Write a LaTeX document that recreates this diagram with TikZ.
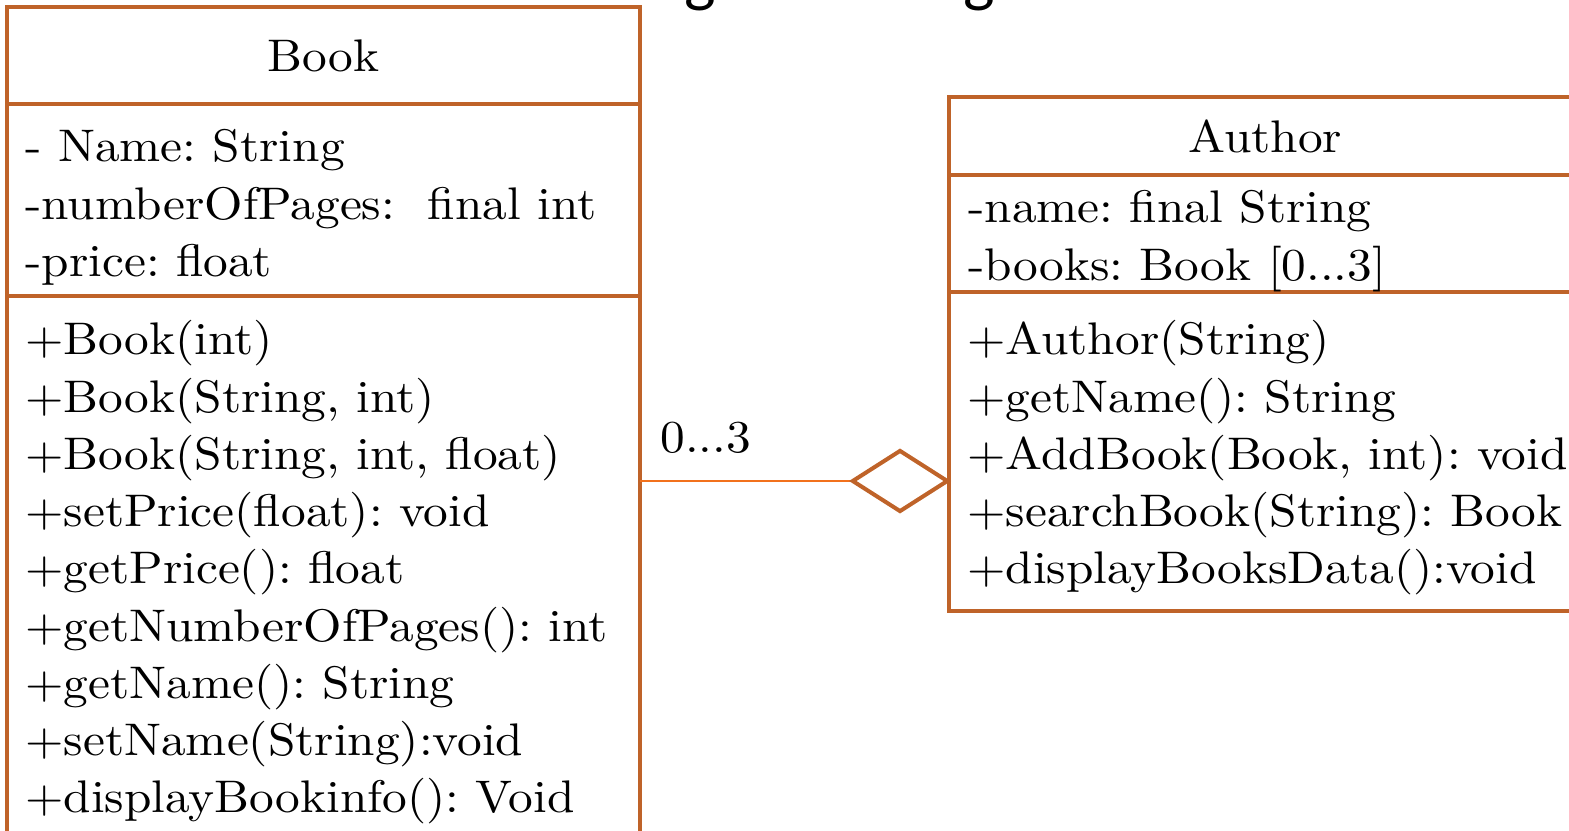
\documentclass[tikz,border=0pt]{standalone}
\usepackage{fontspec}
\setmainfont{lmroman10-regular.otf}[FakeStretch=1.08]
\newfontfamily\slidefont{Carlito}
\usetikzlibrary{positioning,arrows.meta}
\definecolor{umlbrown}{RGB}{191,99,41}
\definecolor{linkorange}{RGB}{242,113,28}
\newcommand\multrange{0...3}
\frenchspacing

\begin{document}
\begin{tikzpicture}[x=0.02cm, y=-0.02cm,
  compart/.style={draw=umlbrown, line width=2.3pt, anchor=north west, outer sep=0pt, inner sep=0pt, minimum width=12.66cm, font=\fontsize{26}{31}\selectfont},
  member/.style={anchor=base west, inner sep=0pt, font=\fontsize{26}{31}\selectfont},
  slide/.style={anchor=base west, inner sep=0pt, font=\slidefont\fontsize{38}{45}\selectfont},
  assoc/.style={draw=linkorange, line width=1.2pt, -{Diamond[open, length=2.04cm, width=1.3cm, line width=2.3pt, color=umlbrown]}}]
\useasboundingbox (0,0) rectangle (1569,831);
\clip (0,0) rectangle (1569,831);
% slide heading, cut by the frame
\node[slide, anchor=base, text=linkorange] (bullet) at (84,8) {•};
\node[slide] (heading) at (132,0) {Convert the following Class diagram to code};
% class Book
\node[compart, minimum height=1.94cm] (booktitle) at (7,7) {Book};
\node[compart, minimum height=3.84cm] (bookattr) at (booktitle.south west) {};
\node[compart, minimum height=11.5cm] (bookops) at (bookattr.south west) {};
\foreach \txt [count=\i from 0] in {{- Name: String}, {-numberOfPages:\ \ final int}, {-price: float}}
  \node[member] (battr\i) at (25, 162+57.2*\i) {\txt};
\foreach \txt [count=\i from 0] in {{+Book(int)}, {+Book(String, int)}, {+Book(String, int, float)},
    {+setPrice(float): void}, {+getPrice(): float}, {+getNumberOfPages(): int},
    {+getName(): String}, {+setName(String):void}, {+displayBookinfo(): Void}}
  \node[member] (bop\i) at (25, 355+57.2*\i) {\txt};
% class Author
\node[compart, minimum height=1.56cm] (authtitle) at (949,97) {Author};
\node[compart, minimum height=2.34cm] (authattr) at (authtitle.south west) {};
\node[compart, minimum height=6.38cm] (authops) at (authattr.south west) {};
\foreach \txt [count=\i from 0] in {{-name: final String}, {-books: Book [\multrange]}}
  \node[member] (aattr\i) at (968, 223+57*\i) {\txt};
\foreach \txt [count=\i from 0] in {{+Author(String)}, {+getName(): String}, {+AddBook(Book, int): void},
    {+searchBook(String): Book}, {+displayBooksData():void}}
  \node[member] (aop\i) at (967, 355+57.2*\i) {\txt};
% aggregation
\coordinate (aggr) at (951,481);
\draw[assoc] (aggr -| bookops.east) -- (aggr);
\node[member] (mult) at (660,452) {\multrange};
\end{tikzpicture}
\end{document}
